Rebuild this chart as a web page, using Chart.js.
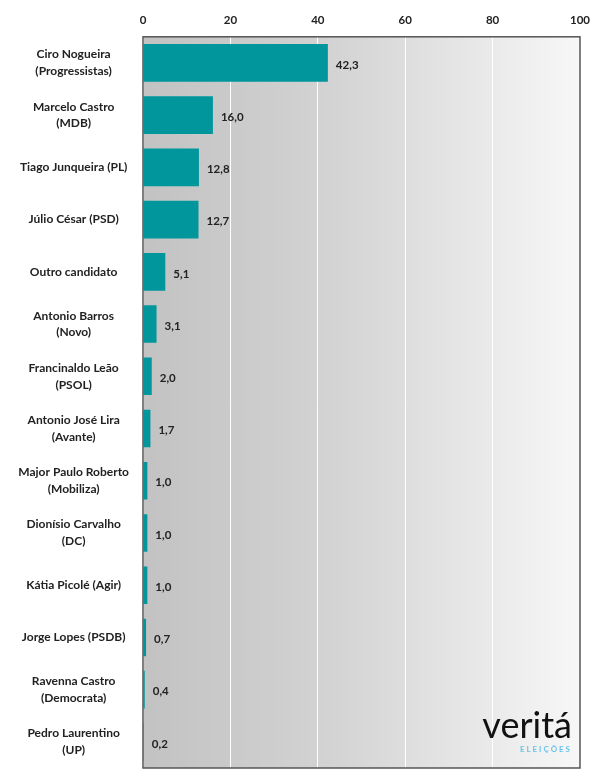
<!DOCTYPE html>
<html>
<head>
<meta charset="utf-8">
<script src="https://cdn.jsdelivr.net/npm/chart.js@4"></script>
<style>
  body { margin: 0; background: #fff; }
  #wrap { width: 600px; height: 780px; position: relative; }
</style>
</head>
<body>
<div id="wrap"><canvas id="myChart"></canvas></div>
<script>
// chart data
var candidates = [
  ["Ciro Nogueira", "(Progressistas)"],
  ["Marcelo Castro", "(MDB)"],
  "Tiago Junqueira (PL)",
  "Júlio César (PSD)",
  "Outro candidato",
  ["Antonio Barros", "(Novo)"],
  ["Francinaldo Leão", "(PSOL)"],
  ["Antonio José Lira", "(Avante)"],
  ["Major Paulo Roberto", "(Mobiliza)"],
  ["Dionísio Carvalho", "(DC)"],
  "Kátia Picolé (Agir)",
  "Jorge Lopes (PSDB)",
  ["Ravenna Castro", "(Democrata)"],
  ["Pedro Laurentino", "(UP)"]
];
var votes = [42.3, 16.0, 12.8, 12.7, 5.1, 3.1, 2.0, 1.7, 1.0, 1.0, 1.0, 0.7, 0.4, 0.2];
var xTicks = [0, 20, 40, 60, 80, 100];

// grey gradient behind the bars + border
var bgPlugin = {
  id: "bg",
  beforeDraw: function (chart) {
    var a = chart.chartArea, c = chart.ctx;
    var g = c.createLinearGradient(a.left, 0, a.right, 0);
    g.addColorStop(0, "#c2c2c2");
    g.addColorStop(0.45, "#d4d4d4");
    g.addColorStop(1, "#f7f7f7");
    c.save();
    c.fillStyle = g;
    c.fillRect(a.left, a.top, a.right - a.left, a.bottom - a.top);
    c.restore();
  },
  afterDraw: function (chart) {
    var a = chart.chartArea, c = chart.ctx;
    c.save();
    c.strokeStyle = "#555";
    c.lineWidth = 1.5;
    c.strokeRect(a.left, a.top, a.right - a.left, a.bottom - a.top);
    // logo
    c.textAlign = "right";
    c.fillStyle = "#111";
    c.font = "36px Lato";
    c.fillText("veritá", a.right - 8, a.bottom - 30);
    c.fillStyle = "#6cc4e8";
    c.font = "bold 8px Lato";
    c.fillText("E L E I Ç Õ E S", a.right - 10, a.bottom - 16);
    c.restore();
  }
};

// value labels after the bars
var labelPlugin = {
  id: "vals",
  afterDatasetsDraw: function (chart) {
    var c = chart.ctx;
    var meta = chart.getDatasetMeta(0);
    c.save();
    c.font = "bold 11.5px Lato";
    c.fillStyle = "#222";
    c.textBaseline = "middle";
    meta.data.forEach(function (bar, i) {
      c.fillText(votes[i].toFixed(1).replace(".", ","), bar.x + 8, bar.y + 2);
    });
    c.restore();
  }
};

new Chart(document.getElementById("myChart"), {
  type: "bar",
  data: {
    labels: candidates,
    datasets: [{
      data: votes,
      backgroundColor: "#00969b",
      barPercentage: 0.72,
      categoryPercentage: 1
    }]
  },
  options: {
    indexAxis: "y",
    responsive: true,
    maintainAspectRatio: false,
    animation: false,
    layout: { padding: { top: 3, right: 18, bottom: 12, left: 0 } },
    plugins: { legend: { display: false }, tooltip: { enabled: false } },
    scales: {
      x: {
        position: "top",
        min: 0,
        max: 100,
        afterBuildTicks: function (ax) { ax.ticks = xTicks.map(function (v) { return { value: v }; }); },
        grid: { color: "#ffffff", lineWidth: 1, drawTicks: false },
        border: { display: false },
        ticks: { color: "#222", font: { family: "Lato", size: 11.5, weight: "bold" }, padding: 10 }
      },
      y: {
        grid: { display: false },
        border: { display: false },
        afterFit: function (ax) { ax.width = 143; ax.paddingTop = 0; ax.paddingBottom = 0; },
        ticks: { color: "#222", font: { family: "Lato", size: 12, weight: "bold", lineHeight: 1.4 }, padding: 6, crossAlign: "center" }
      }
    }
  },
  plugins: [bgPlugin, labelPlugin]
});
</script>
</body>
</html>
